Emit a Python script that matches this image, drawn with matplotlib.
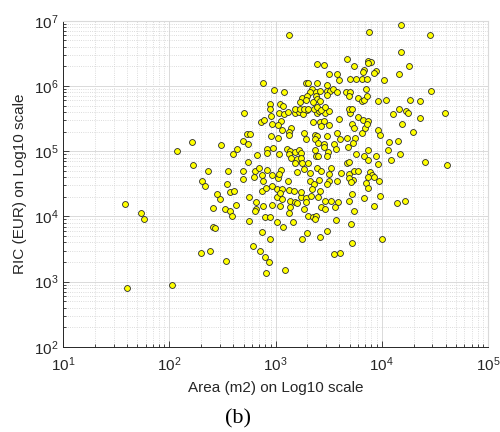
import matplotlib.pyplot as plt
import numpy as np
from matplotlib.ticker import LogLocator, NullFormatter

plt.rcParams['font.family'] = ['Liberation Sans', 'DejaVu Sans']

# values, stored as log10 exponents (axes are "Log10 scale")
# area (m2) exponents
log_area = [
    # small buildings, left side
    2.07, 1.58, 1.73, 1.76, 1.60, 2.03,
    # lower-left of the cloud
    2.48, 2.41, 2.52, 2.57, 2.63, 2.59, 2.75, 2.82, 2.82, 2.81, 2.88, 2.97, 2.90, 2.95,
    2.75, 2.41, 2.43, 2.87, 2.95, 2.79, 2.85, 2.90, 2.94, 2.91, 2.30, 2.38, 2.53,
    # lower middle
    3.01, 3.06, 3.04, 3.14, 3.14, 3.18, 3.20, 3.24, 3.29, 3.29, 3.33, 3.40, 3.47, 3.52, 3.59,
    3.43, 3.47, 3.56, 3.27, 3.13, 3.31, 3.35, 3.38, 3.37, 3.01, 3.16, 3.07, 3.57, 3.48, 3.42,
    3.30, 3.25, 3.55, 3.61, 3.09,
    # lower right
    3.69, 3.83, 3.98, 3.93, 4.14, 4.22, 3.74, 3.71, 3.72, 4.00,
    # middle left
    2.70, 2.86, 2.89, 2.96, 2.97, 2.73, 2.76, 2.96, 2.21, 2.49, 2.69, 2.74, 2.64, 2.60, 2.83,
    2.92, 2.92, 2.98, 2.74, 2.22, 2.36, 2.55, 2.69, 2.81, 2.84, 2.92, 2.87, 2.69, 2.80, 2.88,
    2.97, 2.31, 2.34, 2.54, 2.57, 2.61, 2.45, 2.87, 2.91, 2.97,
    # core
    3.03, 3.08, 3.12, 3.18, 3.22, 3.26, 3.30, 3.39, 3.41, 3.47, 3.50, 3.60, 3.05, 3.35, 3.42,
    3.46, 3.50, 3.43, 3.15, 3.13, 3.13, 3.06, 3.02, 3.27, 3.58, 3.37, 3.39, 3.02, 3.29, 3.37,
    3.48, 3.40, 3.46, 3.55, 3.61, 3.46, 3.57, 3.11, 3.14, 3.18, 3.22, 3.24, 3.03, 3.13, 3.15,
    3.20, 3.24, 3.37, 3.38, 3.40, 3.49, 3.48, 3.18, 3.25, 3.31, 3.27, 3.32, 3.39, 3.43, 3.52,
    3.50, 3.62, 3.02, 3.05, 3.03, 3.20, 3.12, 3.32, 3.41, 3.50, 3.58, 3.36, 3.48, 3.34, 3.42,
    3.01, 3.06, 3.13, 3.04, 3.17, 3.24,
    # middle right
    3.70, 3.78, 3.82, 3.87, 3.72, 3.74, 3.81, 3.84, 3.86, 3.96, 3.98, 4.11, 4.19, 4.23, 4.25,
    4.36, 4.29, 4.60, 4.07, 4.15, 4.06, 4.17, 4.09, 4.41, 4.61, 3.67, 3.75, 3.73, 3.68, 3.87,
    3.83, 3.87, 3.95, 3.96, 3.76, 3.67, 3.69, 3.69, 3.74, 3.78, 3.89, 3.91, 3.93, 3.87, 3.85,
    3.97, 3.73, 3.69, 3.71, 3.87, 3.72,
    # upper middle
    3.13, 3.39, 3.46, 3.50, 3.58, 3.60, 2.88, 2.99, 3.08, 3.29, 3.31, 3.39, 3.48, 3.34, 3.32,
    3.38, 3.42, 3.48, 3.51, 3.54, 3.58, 3.48, 3.25, 3.23, 3.30, 3.38, 3.39, 3.42, 3.35, 3.29,
    2.95, 2.95, 3.04, 3.07, 3.18, 3.23, 3.27, 3.31, 3.36, 3.39, 3.43, 3.47,
    # upper right
    4.18, 3.88, 4.45, 4.18, 3.67, 3.87, 3.90, 3.87, 3.74, 4.26, 3.83, 3.82, 3.95, 3.93, 4.16,
    3.70, 3.76, 3.81, 3.86, 4.02, 3.85, 3.66, 3.70, 3.69, 3.78, 3.81, 3.83, 3.86, 3.96, 4.04,
    4.27, 4.36, 4.46, 3.69, 3.72, 4.16,
]

# RIC (EUR) exponents, same order
log_ric = [
    5.01, 4.19, 4.06, 3.96, 2.91, 2.95,
    4.26, 4.13, 4.12, 4.09, 4.17, 4.01, 4.30, 4.22, 4.11, 4.09, 4.16, 4.17, 3.99, 3.99,
    3.93, 3.84, 3.83, 3.76, 3.65, 3.54, 3.47, 3.38, 3.30, 3.13, 3.44, 3.47, 3.32,
    4.30, 4.27, 4.16, 4.23, 4.14, 4.22, 4.20, 4.30, 4.28, 4.22, 4.32, 4.30, 4.24, 4.24, 4.22,
    4.14, 4.11, 4.14, 4.11, 4.05, 4.01, 3.99, 4.01, 3.96, 3.92, 3.91, 3.84, 3.94, 3.77, 3.69,
    3.75, 3.66, 3.43, 3.44, 3.18,
    4.24, 4.29, 4.31, 4.16, 4.20, 4.24, 4.08, 3.89, 3.60, 3.66,
    5.59, 5.44, 5.48, 5.54, 5.41, 5.26, 5.26, 5.24, 5.14, 5.10, 5.15, 5.11, 5.04, 4.95, 4.94,
    5.04, 4.97, 5.05, 4.84, 4.79, 4.70, 4.70, 4.70, 4.70, 4.74, 4.71, 4.64, 4.58, 4.61, 4.55,
    4.64, 4.55, 4.47, 4.49, 4.38, 4.39, 4.35, 4.39, 4.43, 4.46,
    5.59, 5.57, 5.60, 5.58, 5.60, 5.57, 5.63, 5.58, 5.62, 5.59, 5.61, 5.50, 5.47, 5.45, 5.45,
    5.46, 5.40, 5.38, 5.36, 5.30, 5.25, 5.33, 5.40, 5.28, 5.28, 5.25, 5.23, 5.20, 5.18, 5.18,
    5.23, 5.12, 5.11, 5.11, 5.18, 5.06, 5.03, 5.04, 5.01, 4.99, 5.02, 4.97, 4.96, 4.96, 4.90,
    4.88, 4.90, 5.02, 4.93, 4.92, 4.99, 4.92, 4.82, 4.82, 4.82, 4.72, 4.67, 4.74, 4.69, 4.74,
    4.65, 4.67, 4.59, 4.71, 4.65, 4.68, 4.55, 4.55, 4.56, 4.54, 4.55, 4.50, 4.49, 4.42, 4.39,
    4.42, 4.42, 4.41, 4.36, 4.39, 4.38,
    5.59, 5.53, 5.48, 5.47, 5.42, 5.35, 5.28, 5.35, 5.41, 5.33, 5.25, 5.57, 5.42, 5.61, 5.58,
    5.51, 5.30, 5.58, 5.14, 5.15, 5.02, 4.95, 4.87, 4.83, 4.79, 5.20, 5.21, 5.12, 5.07, 5.02,
    4.93, 4.87, 4.93, 4.80, 4.96, 4.82, 4.83, 4.65, 4.70, 4.70, 4.68, 4.64, 4.60, 4.61, 4.52,
    4.55, 4.56, 4.59, 4.53, 4.44, 4.35,
    6.78, 6.34, 6.32, 6.19, 6.18, 6.09, 6.04, 5.94, 5.90, 6.05, 6.04, 6.04, 6.02, 5.95, 5.90,
    5.90, 5.92, 5.92, 5.93, 5.96, 5.90, 5.86, 5.81, 5.76, 5.85, 5.85, 5.80, 5.77, 5.76, 5.79,
    5.73, 5.64, 5.73, 5.70, 5.65, 5.65, 5.65, 5.65, 5.64, 5.68, 5.63, 5.68,
    6.93, 6.82, 6.78, 6.52, 6.41, 6.39, 6.36, 6.35, 6.30, 6.30, 6.25, 6.22, 6.23, 6.20, 6.18,
    6.10, 6.10, 6.10, 6.10, 6.09, 5.95, 5.90, 5.90, 5.84, 5.81, 5.77, 5.79, 5.85, 5.77, 5.79,
    5.78, 5.77, 5.93, 5.64, 5.64, 5.65,
]

area = 10 ** np.array(log_area)
ric = 10 ** np.array(log_ric)

fig = plt.figure(figsize=(5, 4.32), dpi=100)
ax = fig.add_axes([0.126, 0.197, 0.85, 0.755])

ax.scatter(area, ric, s=18, c='#ffff00', edgecolors='#2b2b2b', linewidths=0.6, zorder=3)

ax.set_xscale('log')
ax.set_yscale('log')
ax.set_xlim(1e1, 1e5)
ax.set_ylim(1e2, 1e7)

for axis in (ax.xaxis, ax.yaxis):
    axis.set_major_locator(LogLocator(base=10, numticks=20))
    axis.set_minor_locator(LogLocator(base=10, subs=np.arange(2, 10), numticks=20))
    axis.set_minor_formatter(NullFormatter())

ax.set_axisbelow(True)
ax.grid(True, which='major', color='#dadada', linewidth=0.7)
ax.grid(True, which='minor', color='#d0d0d0', linewidth=0.6, linestyle=':')

for side in ['top', 'right']:
    ax.spines[side].set_color('#dadada')
for side in ['left', 'bottom']:
    ax.spines[side].set_color('#262626')
    ax.spines[side].set_linewidth(0.7)

ax.tick_params(which='both', direction='in', top=False, right=False,
               colors='#262626', labelsize=11, width=0.6)
ax.tick_params(which='major', length=4)
ax.tick_params(which='minor', length=2.5)
ax.tick_params(axis='x', which='major', pad=6)

ax.set_xlabel('Area (m2) on Log10 scale', fontsize=11, color='#262626', labelpad=5)
ax.set_ylabel('RIC (EUR) on Log10 scale', fontsize=11, color='#262626', labelpad=5)

fig.text(0.476, 0.03, '(b)', family='Liberation Serif', fontsize=16,
         ha='center', va='center')

fig.savefig('out.png', dpi=100)
